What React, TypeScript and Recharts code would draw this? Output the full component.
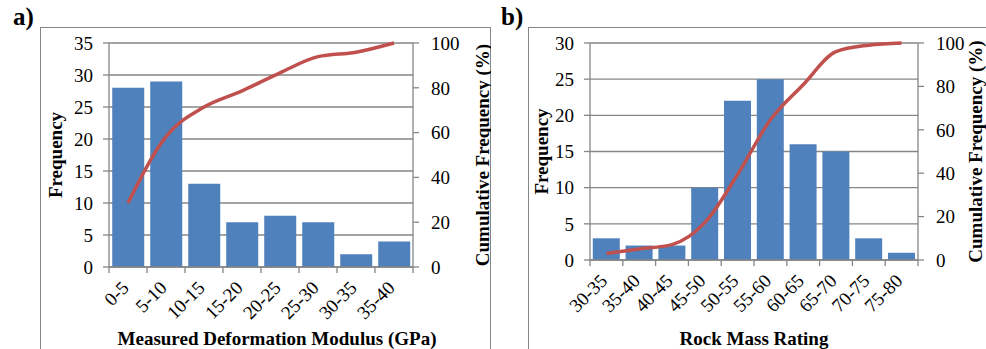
import { Bar, CartesianGrid, ComposedChart, Line, XAxis, YAxis } from "recharts";

// a) measured deformation modulus histogram
const defoBins = ["0-5", "5-10", "10-15", "15-20", "20-25", "25-30", "30-35", "35-40"];
const defoFreq = [28, 29, 13, 7, 8, 7, 2, 4];
const defoCum = [28.6, 58.2, 71.4, 78.6, 86.7, 93.9, 95.9, 100];
const defoFreqTicks = [0, 5, 10, 15, 20, 25, 30, 35];

// b) rock mass rating histogram
const rmrBins = ["30-35", "35-40", "40-45", "45-50", "50-55", "55-60", "60-65", "65-70", "70-75", "75-80"];
const rmrFreq = [3, 2, 2, 10, 22, 25, 16, 15, 3, 1];
const rmrCum = [3.0, 5.1, 7.1, 17.2, 39.4, 64.6, 80.8, 96.0, 99.0, 100];
const rmrFreqTicks = [0, 5, 10, 15, 20, 25, 30];

const cumTicks = [0, 20, 40, 60, 80, 100];

const FONT = "Liberation Serif";
const GRAY = "#868686";
const BLUE = "#4F81BD";
const RED = "#C0504D";

const tickStyle = { fontFamily: FONT, fontSize: 19, fill: "#000" };
const titleStyle = { fontFamily: FONT, fontSize: 19, fontWeight: 700, fill: "#000" };

const yTitle = (dx: number, text: string) => (props: any) => {
  const vb = props.viewBox;
  const cx = vb.x + dx;
  const cy = vb.y + vb.height / 2;
  return (
    <text x={cx} y={cy} transform={`rotate(-90 ${cx} ${cy})`} textAnchor="middle" dominantBaseline="central" fontFamily={FONT} fontSize={19} fontWeight={700} fill="#000">
      {text}
    </text>
  );
};

const xTitle = (dx: number, dy: number, text: string) => (props: any) => {
  const vb = props.viewBox;
  return (
    <text x={vb.x + vb.width / 2 + dx} y={vb.y + dy} textAnchor="middle" dominantBaseline="central" fontFamily={FONT} fontSize={19} fontWeight={700} fill="#000">
      {text}
    </text>
  );
};

// category tick: rotated label at the band centre, tick marks on band edges
const makeXTick = (bw: number, n: number) => (props: any) => {
  const { x, y, payload, index } = props;
  const left = x - bw / 2;
  const ax = x + 2;
  const ay = y + 22;
  return (
    <g>
      <line x1={left} x2={left} y1={y} y2={y + 6} stroke={GRAY} strokeWidth={1.3} />
      {index === n - 1 && <line x1={x + bw / 2} x2={x + bw / 2} y1={y} y2={y + 6} stroke={GRAY} strokeWidth={1.3} />}
      <text x={ax} y={ay} textAnchor="end" transform={`rotate(-45 ${ax} ${ay})`} fontFamily={FONT} fontSize={19} fill="#000">
        {payload.value}
      </text>
    </g>
  );
};

type PanelProps = {
  tag: string;
  bins: string[];
  freq: number[];
  cum: number[];
  freqTicks: number[];
  title: string;
  left: number;
  width: number;
  leftW: number;
  rightW: number;
  bottomH: number;
  leftTitleDx: number;
  rightTitleDx: number;
  xTitleDx: number;
  xTitleDy: number;
};

const Panel = (p: PanelProps) => {
  const height = 322;
  const top = 16;
  const data = p.bins.map((b, i) => ({ bin: b, freq: p.freq[i], cum: p.cum[i] }));
  const bw = (p.width - p.leftW - p.rightW) / p.bins.length;
  const fmax = p.freqTicks[p.freqTicks.length - 1];
  return (
    <>
      <div
        style={{
          position: "absolute",
          left: p.left,
          top: 27,
          width: p.width,
          height: 340,
          border: `1.5px solid ${GRAY}`,
          boxSizing: "border-box",
        }}
      />
      <div style={{ position: "absolute", left: p.left - 27, top: 3, fontFamily: FONT, fontWeight: 700, fontSize: 25, color: "#000" }}>{p.tag}</div>
      <div style={{ position: "absolute", left: p.left, top: 27 }}>
        <ComposedChart width={p.width} height={height} data={data} margin={{ top, right: 0, bottom: 0, left: 0 }} barCategoryGap="8.5%">
          <CartesianGrid vertical={false} stroke={GRAY} strokeWidth={1.3} yAxisId="f" />
          <XAxis
            dataKey="bin"
            height={p.bottomH}
            interval={0}
            tickSize={0}
            tickMargin={0}
            tickLine={false}
            axisLine={{ stroke: GRAY, strokeWidth: 1.3 }}
            tick={makeXTick(bw, p.bins.length)}
            label={{ content: xTitle(p.xTitleDx, p.xTitleDy, p.title) }}
          />
          <YAxis
            yAxisId="f"
            width={p.leftW}
            domain={[0, fmax]}
            ticks={p.freqTicks}
            interval={0}
            tickSize={6}
            tickMargin={10}
            tick={tickStyle}
            tickLine={{ stroke: GRAY, strokeWidth: 1.3 }}
            axisLine={{ stroke: GRAY, strokeWidth: 1.3 }}
            label={{ content: yTitle(p.leftTitleDx, "Frequency") }}
          />
          <YAxis
            yAxisId="c"
            orientation="right"
            width={p.rightW}
            domain={[0, 100]}
            ticks={cumTicks}
            interval={0}
            tickSize={6}
            tickMargin={12}
            tick={tickStyle}
            tickLine={{ stroke: GRAY, strokeWidth: 1.3 }}
            axisLine={{ stroke: GRAY, strokeWidth: 1.3 }}
            label={{ content: yTitle(p.rightTitleDx, "Cumulative Frequency (%)") }}
          />
          <Bar yAxisId="f" dataKey="freq" fill={BLUE} isAnimationActive={false} />
          <Line yAxisId="c" dataKey="cum" type="monotone" stroke={RED} strokeWidth={3.5} dot={false} isAnimationActive={false} />
        </ComposedChart>
      </div>
    </>
  );
};

export default function App() {
  return (
    <div style={{ position: "fixed", left: 0, top: 0, width: 986, height: 349, overflow: "hidden", background: "#fff" }}>
      <Panel
        tag="a)"
        bins={defoBins}
        freq={defoFreq}
        cum={defoCum}
        freqTicks={defoFreqTicks}
        title="Measured Deformation Modulus (GPa)"
        left={40}
        width={451}
        leftW={69}
        rightW={78}
        bottomH={82}
        leftTitleDx={15}
        rightTitleDx={69}
        xTitleDx={16}
        xTitleDy={71}
      />
      <Panel
        tag="b)"
        bins={rmrBins}
        freq={rmrFreq}
        cum={rmrCum}
        freqTicks={rmrFreqTicks}
        title="Rock Mass Rating"
        left={528}
        width={470}
        leftW={62}
        rightW={80}
        bottomH={89}
        leftTitleDx={13}
        rightTitleDx={57}
        xTitleDx={0}
        xTitleDy={78}
      />
    </div>
  );
}
